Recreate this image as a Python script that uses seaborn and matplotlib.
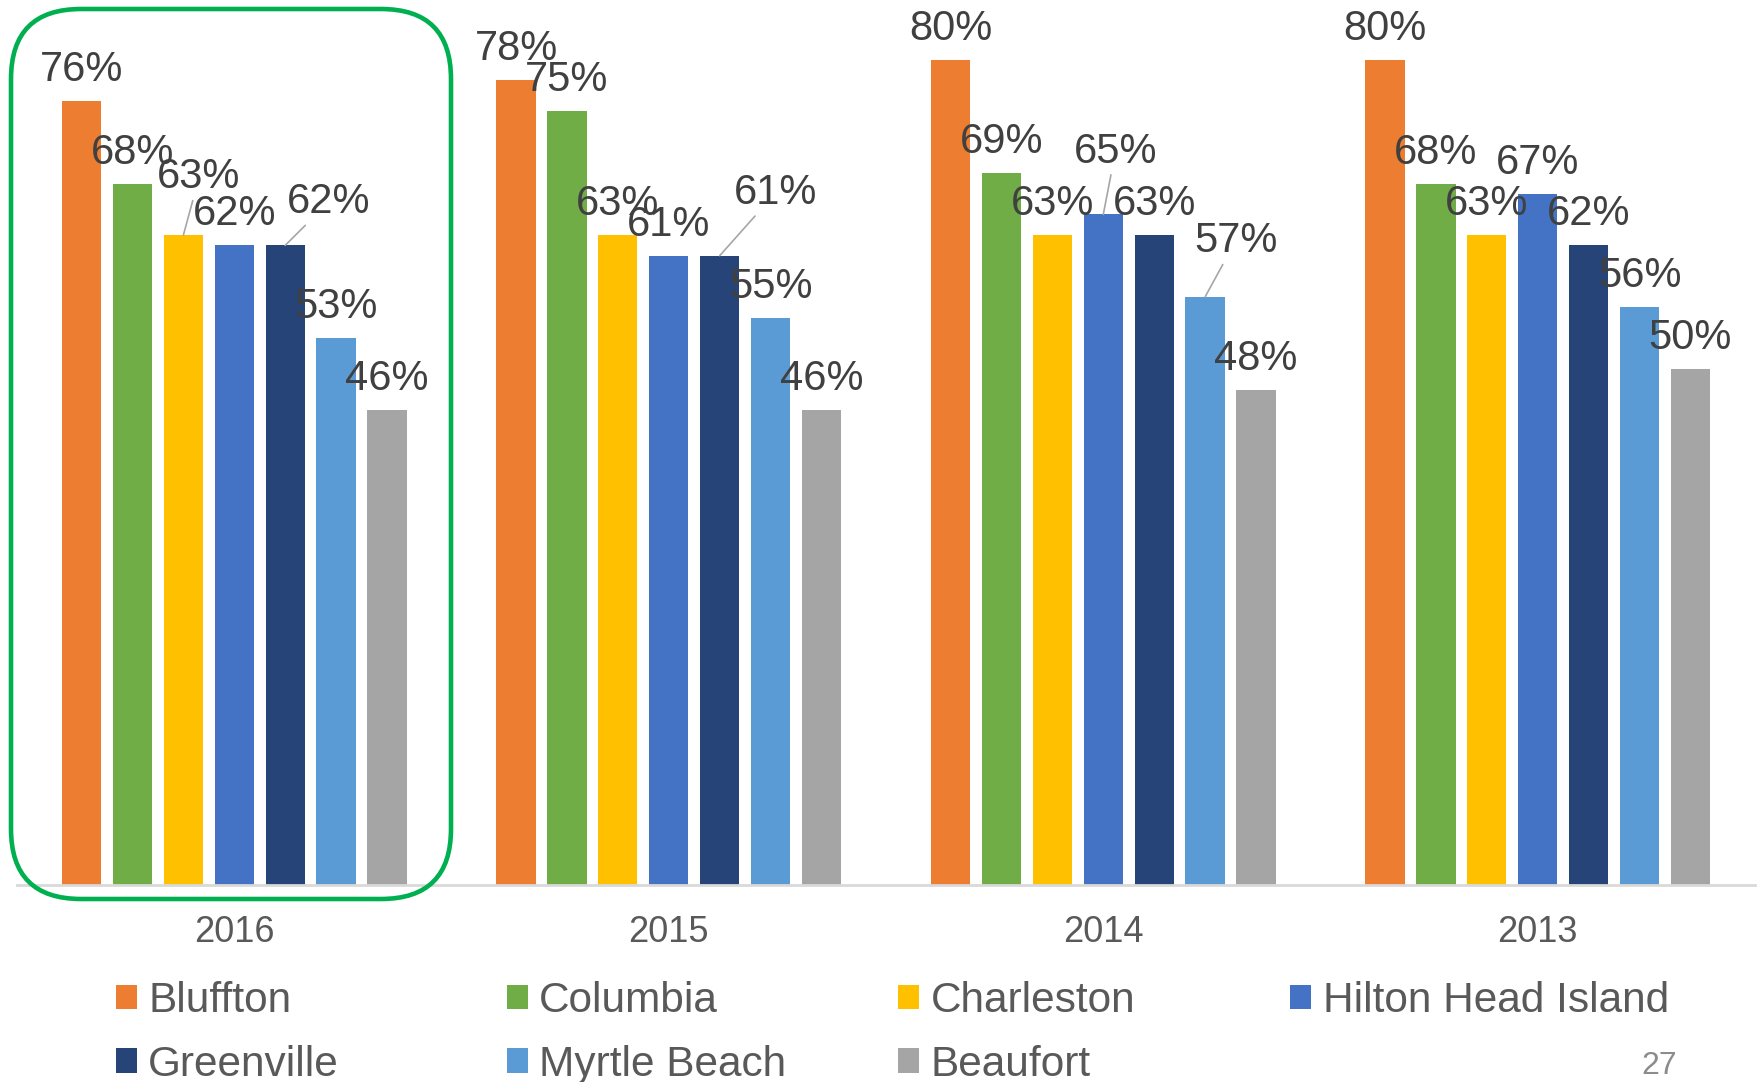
import matplotlib
matplotlib.use('Agg')
import matplotlib.pyplot as plt
from matplotlib.patches import Patch, FancyBboxPatch
import pandas as pd
import seaborn as sns

years = ['2016', '2015', '2014', '2013']
cities = ['Bluffton', 'Columbia', 'Charleston', 'Hilton Head Island',
          'Greenville', 'Myrtle Beach', 'Beaufort']
bluffton = [76, 78, 80, 80]
columbia = [68, 75, 69, 68]
charleston = [63, 63, 63, 63]
hilton_head = [62, 61, 65, 67]
greenville = [62, 61, 63, 62]
myrtle_beach = [53, 55, 57, 56]
beaufort = [46, 46, 48, 50]

colors = ['#ED7D31', '#70AD47', '#FFC000', '#4472C4', '#264478', '#5B9BD5', '#A5A5A5']

series = [bluffton, columbia, charleston, hilton_head, greenville, myrtle_beach, beaufort]
rows = []
for city, vals in zip(cities, series):
    for year, v in zip(years, vals):
        rows.append({'year': year, 'city': city, 'pct': v})
df = pd.DataFrame(rows)

# labels that Excel pushed aside with a leader line: (dx in categories, extra dy in %)
moved = {
    ('2016', 'Charleston'): (0.036, 2.6),
    ('2016', 'Greenville'): (0.10, 1.2),
    ('2015', 'Greenville'): (0.129, 3.1),
    ('2014', 'Hilton Head Island'): (0.028, 3.1),
    ('2014', 'Myrtle Beach'): (0.07, 2.4),
}

sns.set_style('white')
plt.rcParams['font.family'] = ['Liberation Sans', 'DejaVu Sans']

fig = plt.figure(figsize=(17.58, 10.82), dpi=100)
ax = fig.add_axes([0.0097, 0.1824, 0.9886, 0.8176])
sns.barplot(data=df, x='year', y='pct', hue='city', order=years, hue_order=cities,
            palette=colors, saturation=1, width=0.82, gap=0.23, linewidth=0,
            errorbar=None, legend=False, ax=ax)
ax.set_xlim(-0.5, 3.5)
ax.set_ylim(0, 85.8)

for ci, cont in enumerate(ax.containers):
    for yi, bar in enumerate(cont):
        x = bar.get_x() + bar.get_width() / 2
        h = bar.get_height()
        txt = f'{series[ci][yi]}%'
        key = (years[yi], cities[ci])
        if key in moved:
            dx, dy = moved[key]
            ax.annotate(txt, xy=(x, h), xytext=(x + dx, h + 3.0 + dy),
                        ha='center', va='center', fontsize=30, color='#404040',
                        arrowprops=dict(arrowstyle='-', color='#A6A6A6', lw=1.2,
                                        shrinkA=0, shrinkB=0))
        else:
            ax.text(x, h + 3.0, txt, ha='center', va='center', fontsize=30, color='#404040')

ax.set_xlabel('')
ax.set_ylabel('')
ax.set_yticks([])
ax.tick_params(axis='x', length=0, pad=22, labelsize=26, labelcolor='#595959')
for s in ['top', 'left', 'right']:
    ax.spines[s].set_visible(False)
ax.spines['bottom'].set_color('#D9D9D9')
ax.spines['bottom'].set_linewidth(2)

# legend, one column at a time to keep Excel's fixed column pitch
col_x = [0.0657, 0.2882, 0.5108, 0.7338]
for j in range(4):
    idx = [i for i in (j, j + 4) if i < len(cities)]
    handles = [Patch(facecolor=colors[i], edgecolor='none') for i in idx]
    fig.legend(handles, [cities[i] for i in idx], loc='upper left',
               bbox_to_anchor=(col_x[j], 0.0935), frameon=False, fontsize=30.5,
               handlelength=0.5, handleheight=0.5, handletextpad=0.27,
               labelspacing=0.56, borderpad=0, borderaxespad=0, labelcolor='#595959')

fig.text(0.9437, 0.0148, '27', fontsize=23, color='#8C8C8C', ha='center', va='center')

# green highlight around 2016
box = FancyBboxPatch((0.11 + 0.7, 1.83 + 0.7), 4.40 - 1.4, 8.90 - 1.4,
                     boxstyle='round,pad=0.7', transform=fig.dpi_scale_trans,
                     facecolor='none', edgecolor='#00B050', linewidth=3.3)
fig.add_artist(box)

fig.savefig('out.png', dpi=100)
